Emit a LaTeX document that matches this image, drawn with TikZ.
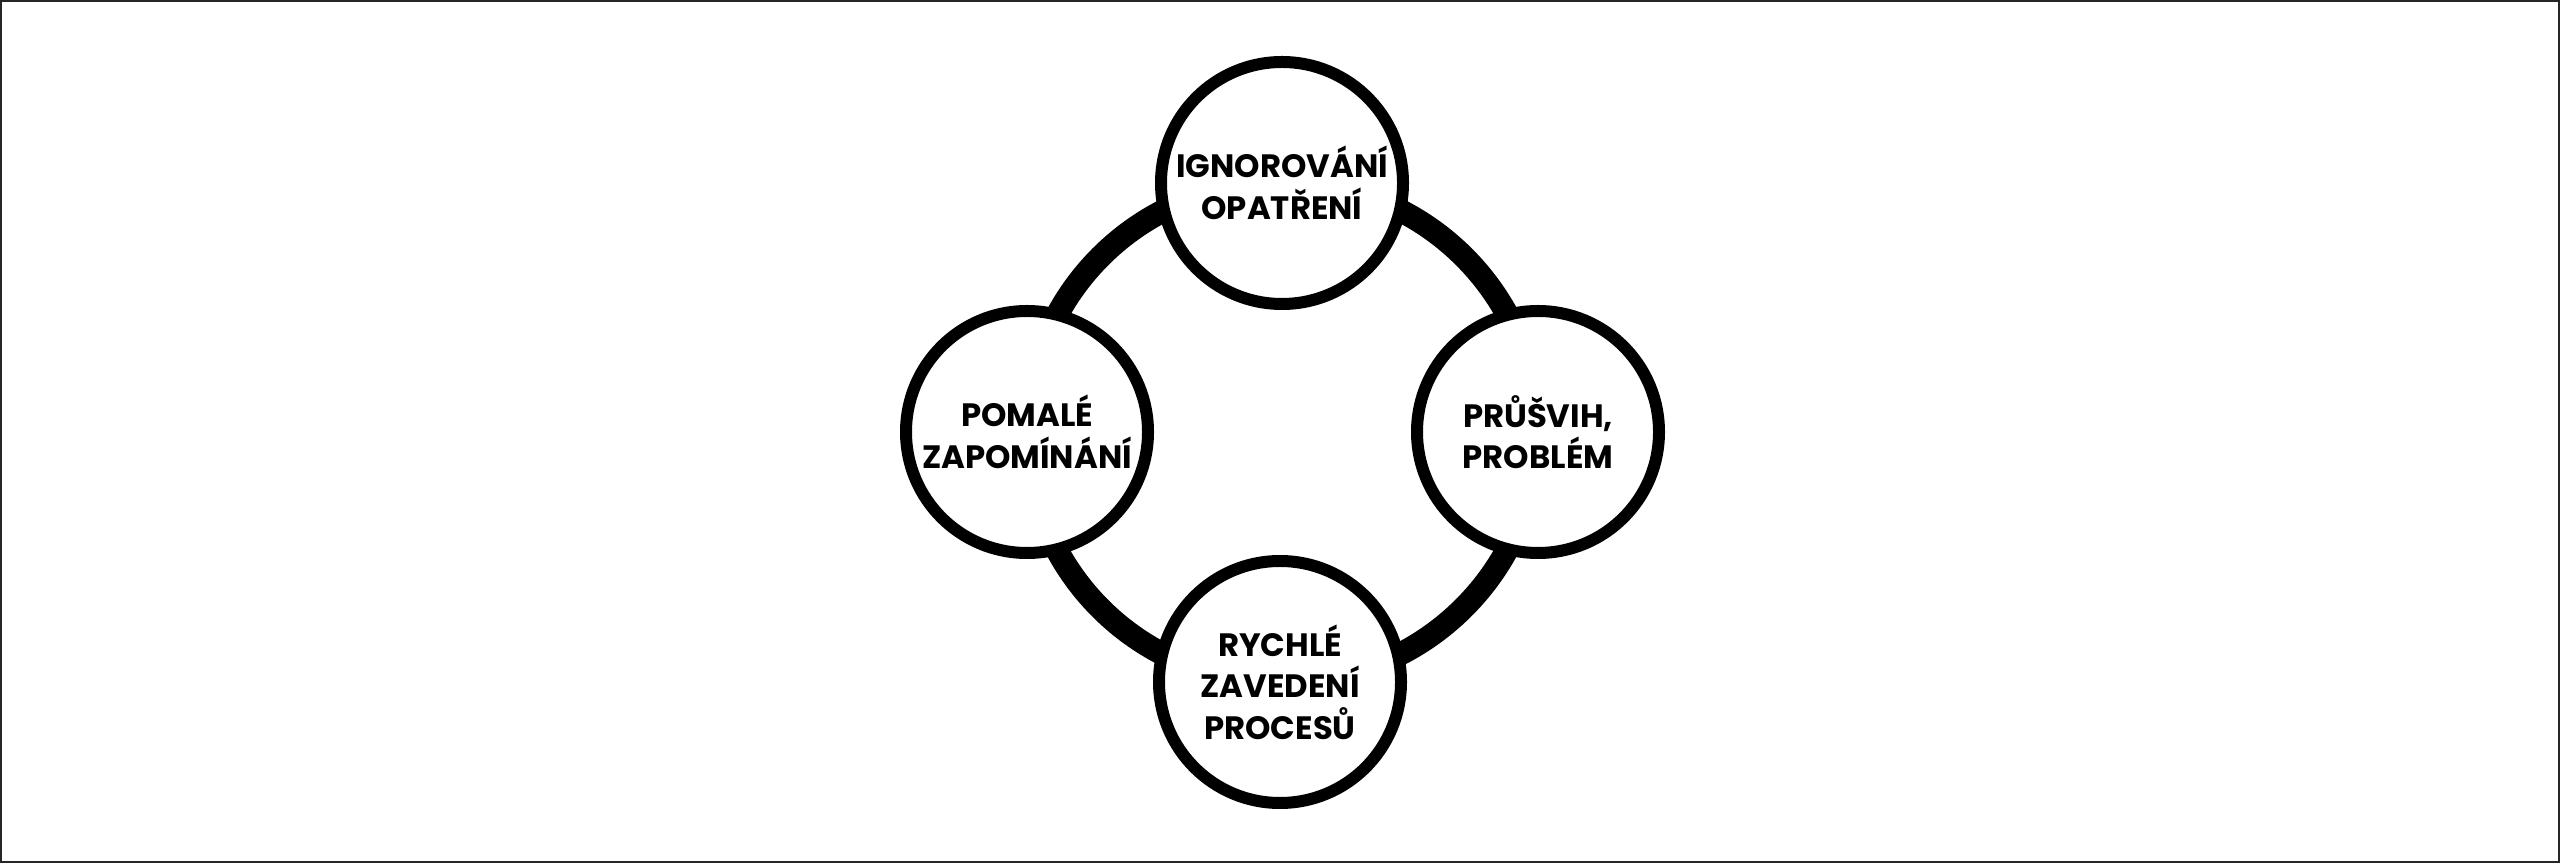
\documentclass[tikz,border=0pt]{standalone}
\usepackage{fontspec}
\setmainfont{Poppins}
\usetikzlibrary{backgrounds}

\begin{document}
\begin{tikzpicture}[x=1cm,y=1cm]
\tikzset{
  stagenode/.style={circle,draw,line width=0.12cm,fill=white,minimum size=2.42cm,inner sep=1pt,
    align=center,font=\bfseries\fontsize{9.2}{11.8}\selectfont},
  cycleedge/.style={line width=0.23cm},
  frame/.style={draw=black!85,line width=0.02cm}
}
\useasboundingbox (0,0) rectangle (25.6,8.63);
\draw[frame] (0.01,0.01) rectangle (25.59,8.62);
\node[stagenode] (n_ign) at (12.82,6.80) {IGNOROVÁNÍ\\OPATŘENÍ};
\node[stagenode] (n_pru) at (15.38,4.31) {PRŮŠVIH,\\PROBLÉM};
\node[stagenode] (n_ryc) at (12.80,1.81) {RYCHLÉ\\ZAVEDENÍ\\PROCESŮ};
\node[stagenode] (n_pom) at (10.27,4.31) {POMALÉ\\ZAPOMÍNÁNÍ};
\begin{scope}[on background layer]
\draw[cycleedge] (n_pom.center) to[bend left=45] (n_ign.center);
\draw[cycleedge] (n_ign.center) to[bend left=45] (n_pru.center);
\draw[cycleedge] (n_pru.center) to[bend left=45] (n_ryc.center);
\draw[cycleedge] (n_ryc.center) to[bend left=45] (n_pom.center);
\end{scope}
\end{tikzpicture}
\end{document}
